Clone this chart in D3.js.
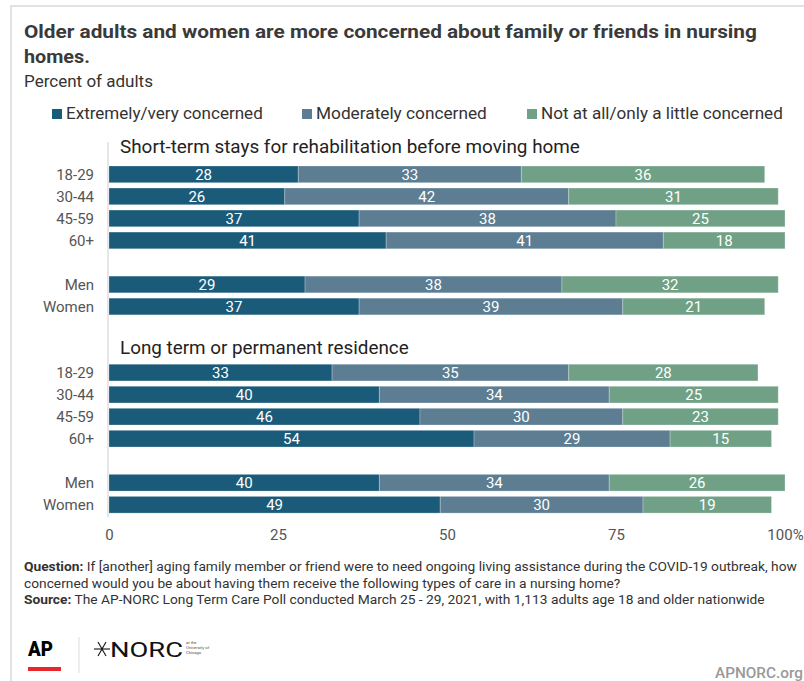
<!DOCTYPE html>
<html><head><meta charset="utf-8">
<script src="https://cdn.jsdelivr.net/npm/d3@7"></script>
<style>
html,body{margin:0;padding:0;background:#fff;}
svg{display:block;font-family:Roboto, "Noto Sans", sans-serif;}
</style></head>
<body>
<svg id="chart" width="804" height="681"></svg>
<script>
// ---- data ----
const seriesNames = ["Extremely/very concerned", "Moderately concerned", "Not at all/only a little concerned"];
const seriesColors = ["#1b5b7a", "#5c7d92", "#70a186"];
const groups = ["18-29", "30-44", "45-59", "60+", "Men", "Women"];
const sectionTitles = ["Short-term stays for rehabilitation before moving home", "Long term or permanent residence"];
// short-term stays
const shortExtremely = [28, 26, 37, 41, 29, 37];
const shortModerately = [33, 42, 38, 41, 38, 39];
const shortNotAtAll = [36, 31, 25, 18, 32, 21];
// long term
const longExtremely = [33, 40, 46, 54, 40, 49];
const longModerately = [35, 34, 30, 29, 34, 30];
const longNotAtAll = [28, 25, 23, 15, 26, 19];
const xTicks = [0, 25, 50, 75, 100];

const svg = d3.select("#chart");

// helper: squeeze text horizontally to a target width
function fit(sel, x0, w) {
  const node = sel.node();
  const bw = node.getBBox().width;
  const k = bw > 0 ? w / bw : 1;
  sel.attr("x", 0).attr("transform", `translate(${x0},0) scale(${k},1)`);
  return sel;
}

// frame
svg.append("rect").attr("x", 11).attr("y", 6).attr("width", 820).attr("height", 700)
  .attr("fill", "none").attr("stroke", "#e2e2e2").attr("stroke-width", 2);

// title
fit(svg.append("text").attr("y", 38).attr("font-size", 19).attr("font-weight", 700).attr("fill", "#3a3a3a")
  .text("Older adults and women are more concerned about family or friends in nursing"), 24, 733);
fit(svg.append("text").attr("y", 63).attr("font-size", 19).attr("font-weight", 700).attr("fill", "#3a3a3a")
  .text("homes."), 24, 66);
fit(svg.append("text").attr("y", 87).attr("font-size", 16).attr("fill", "#333")
  .text("Percent of adults"), 24, 129);

// legend
const legendX = [52, 302, 527];
const legendW = [197, 171, 242];
seriesNames.forEach((n, i) => {
  svg.append("rect").attr("x", legendX[i]).attr("y", 109).attr("width", 10).attr("height", 10).attr("fill", seriesColors[i]);
  fit(svg.append("text").attr("y", 119).attr("font-size", 16).attr("fill", "#333").text(n), legendX[i] + 14, legendW[i]);
});

// scales
const x = d3.scaleLinear().domain([0, 100]).range([109, 785]);
const rowKeys = [];
["s", "l"].forEach((p, si) => {
  groups.forEach((g, gi) => {
    if (gi === 4) rowKeys.push(p + "-gap");
    rowKeys.push(p + "-" + g);
  });
  if (si === 0) { rowKeys.push("mid1"); rowKeys.push("mid2"); }
});
const y = d3.scaleBand().domain(rowKeys).range([166, 513.1]).paddingInner(0.242).paddingOuter(0);

// axis line
svg.append("line").attr("x1", 108).attr("x2", 108).attr("y1", 142).attr("y2", 517)
  .attr("stroke", "#dedede").attr("stroke-width", 1.5);

const sections = [
  { key: "s", title: sectionTitles[0], titleY: 153, titleW: 460, values: [shortExtremely, shortModerately, shortNotAtAll] },
  { key: "l", title: sectionTitles[1], titleY: 354, titleW: 289, values: [longExtremely, longModerately, longNotAtAll] }
];

const stack = d3.stack().keys([0, 1, 2]);

sections.forEach(sec => {
  fit(svg.append("text").attr("y", sec.titleY).attr("font-size", 19).attr("fill", "#222").text(sec.title), 120, sec.titleW);
  const rows = groups.map((g, i) => ({ g, 0: sec.values[0][i], 1: sec.values[1][i], 2: sec.values[2][i] }));
  const stacked = stack(rows);
  // category labels
  svg.append("g").selectAll("text").data(groups).join("text")
    .attr("x", 94).attr("y", g => y(sec.key + "-" + g) + y.bandwidth() / 2 + 5.5)
    .attr("text-anchor", "end").attr("font-size", 15).attr("fill", "#555").text(g => g);
  stacked.forEach((layer, li) => {
    const g = svg.append("g");
    g.selectAll("rect").data(layer).join("rect")
      .attr("x", d => x(d[0])).attr("width", d => x(d[1]) - x(d[0]))
      .attr("y", d => y(sec.key + "-" + d.data.g)).attr("height", y.bandwidth())
      .attr("fill", seriesColors[li])
      .attr("stroke", "#ffffff").attr("stroke-opacity", 0.25).attr("stroke-width", 1);
    g.selectAll("text").data(layer).join("text")
      .attr("x", d => (x(d[0]) + x(d[1])) / 2)
      .attr("y", d => y(sec.key + "-" + d.data.g) + y.bandwidth() / 2 + 5.5)
      .attr("text-anchor", "middle").attr("font-size", 15).attr("fill", "#fff")
      .text(d => d[1] - d[0]);
  });
});

// x axis labels
const axis = d3.axisBottom(x).tickValues(xTicks).tickSize(0).tickFormat(d => d === 100 ? "100%" : d);
const ax = svg.append("g").attr("transform", "translate(0,526)").call(axis);
ax.select(".domain").remove();
ax.selectAll("text").attr("font-size", 15).attr("fill", "#555").attr("font-family", "Roboto, sans-serif");

// footer
const q1 = svg.append("text").attr("y", 571).attr("font-size", 13).attr("fill", "#333");
q1.append("tspan").attr("font-weight", 700).text("Question:");
q1.append("tspan").text(" If [another] aging family member or friend were to need ongoing living assistance during the COVID-19 outbreak, how");
fit(q1, 24, 774);
fit(svg.append("text").attr("y", 588).attr("font-size", 13).attr("fill", "#333")
  .text("concerned would you be about having them receive the following types of care in a nursing home?"), 24, 597);
const s1 = svg.append("text").attr("y", 604).attr("font-size", 13).attr("fill", "#333");
s1.append("tspan").attr("font-weight", 700).text("Source:");
s1.append("tspan").text(" The AP-NORC Long Term Care Poll conducted March 25 - 29, 2021, with 1,113 adults age 18 and older nationwide");
fit(s1, 24, 742);

// logos
fit(svg.append("text").attr("y", 656).attr("font-size", 20).attr("font-weight", 900).attr("fill", "#000").text("AP"), 28, 26);
svg.append("rect").attr("x", 28).attr("y", 667).attr("width", 33).attr("height", 4).attr("fill", "#e8262c");
svg.append("line").attr("x1", 79).attr("x2", 79).attr("y1", 637).attr("y2", 673).attr("stroke", "#ddd").attr("stroke-width", 1);
const star = svg.append("g").attr("transform", "translate(102,649)");
[0, 60, 120].forEach(a => {
  const r = a * Math.PI / 180;
  star.append("line").attr("x1", -8 * Math.cos(r)).attr("y1", -8 * Math.sin(r))
    .attr("x2", 8 * Math.cos(r)).attr("y2", 8 * Math.sin(r)).attr("stroke", "#111").attr("stroke-width", 1.1);
});
fit(svg.append("text").attr("y", 657).attr("font-size", 21).attr("fill", "#111").text("NORC"), 110, 73);
["at the", "University of", "Chicago"].forEach((t, i) => {
  svg.append("text").attr("x", 186).attr("y", 644 + i * 5).attr("font-size", 4.2).attr("fill", "#555").text(t);
});
fit(svg.append("text").attr("y", 678).attr("font-size", 15).attr("font-weight", 500).attr("fill", "#999").text("APNORC.org"), 715, 88);
</script>
</body></html>
